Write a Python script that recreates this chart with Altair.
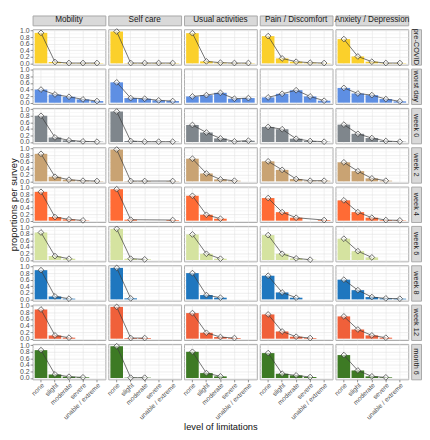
import altair as alt
import pandas as pd

DIMENSIONS = ["Mobility", "Self care", "Usual activities", "Pain / Discomfort", "Anxiety / Depression"]
LEVELS = ["none", "slight", "moderate", "severe", "unable / extreme"]
SURVEYS = ["pre-COVID", "worst day", "week 0", "week 2", "week 4", "week 6", "week 8", "week 12", "month 6"]

# proportions per survey: one list per dimension, values by level
pre_covid = [[0.93, 0.04, 0.01, 0.01, 0.01], [0.97, 0.01, 0.01, 0.01, 0.01], [0.92, 0.06, 0.02, 0.01, 0.01],
             [0.83, 0.15, 0.05, 0.02, 0.01], [0.74, 0.21, 0.05, 0.01, 0.01]]
worst_day = [[0.40, 0.25, 0.18, 0.10, 0.05], [0.62, 0.14, 0.12, 0.07, 0.05], [0.19, 0.23, 0.30, 0.12, 0.14],
             [0.16, 0.27, 0.38, 0.19, 0.06], [0.45, 0.28, 0.23, 0.11, 0.04]]
week_0 = [[0.80, 0.14, 0.05, 0.02, 0.01], [0.93, 0.03, 0.01, 0.01, 0.01], [0.52, 0.29, 0.11, 0.02, 0.04],
          [0.46, 0.39, 0.10, 0.03, 0.01], [0.53, 0.25, 0.12, 0.03, 0.01]]
week_2 = [[0.84, 0.14, 0.05, 0.02, 0.01], [0.97, 0.01, 0.01, 0.0, 0.01], [0.69, 0.24, 0.06, 0.02, 0.0],
          [0.61, 0.35, 0.07, 0.02, 0.02], [0.58, 0.31, 0.09, 0.02, 0.0]]
week_4 = [[0.88, 0.11, 0.04, 0.01, 0.0], [0.96, 0.03, 0.0, 0.0, 0.02], [0.76, 0.18, 0.06, 0.0, 0.0],
          [0.69, 0.26, 0.09, 0.0, 0.02], [0.62, 0.26, 0.09, 0.02, 0.01]]
week_6 = [[0.84, 0.12, 0.04, 0.0, 0.0], [0.95, 0.04, 0.02, 0.0, 0.0], [0.78, 0.19, 0.04, 0.0, 0.0],
          [0.76, 0.19, 0.05, 0.01, 0.0], [0.65, 0.27, 0.08, 0.0, 0.0]]
week_8 = [[0.89, 0.09, 0.02, 0.0, 0.0], [0.96, 0.03, 0.0, 0.0, 0.0], [0.80, 0.13, 0.05, 0.0, 0.0],
          [0.72, 0.21, 0.05, 0.0, 0.0], [0.60, 0.28, 0.07, 0.03, 0.02]]
week_12 = [[0.89, 0.10, 0.03, 0.0, 0.0], [0.97, 0.02, 0.02, 0.0, 0.0], [0.78, 0.18, 0.05, 0.02, 0.0],
           [0.74, 0.22, 0.06, 0.02, 0.0], [0.68, 0.28, 0.10, 0.03, 0.0]]
month_6 = [[0.85, 0.11, 0.04, 0.02, 0.0], [0.97, 0.01, 0.01, 0.0, 0.0], [0.80, 0.15, 0.05, 0.0, 0.0],
           [0.76, 0.13, 0.08, 0.03, 0.0], [0.70, 0.23, 0.05, 0.02, 0.0]]

SURVEY_VALUES = [pre_covid, worst_day, week_0, week_2, week_4, week_6, week_8, week_12, month_6]
COLORS = ["#FBD02B", "#5E8FE3", "#7F868C", "#C9A373", "#FF6B35", "#D5E3A0", "#1F77BF", "#F0603A", "#3D7A24"]
Y_TICKS = [0.0, 0.2, 0.4, 0.6, 0.8, 1.0]
Y_MINOR = [0.1, 0.3, 0.5, 0.7, 0.9]

records = []
for s, vals in zip(SURVEYS, SURVEY_VALUES):
    for d, dv in zip(DIMENSIONS, vals):
        for lev, v in zip(LEVELS, dv):
            records.append({"survey": s, "dimension": d, "level": lev, "value": v})
df = pd.DataFrame(records)
minor_df = pd.DataFrame({"value": Y_MINOR})

W, H, STRIP = 74, 36, 10
FONT = "Liberation Sans"


def panel(si, di):
    s, d = SURVEYS[si], DIMENSIONS[di]
    first_col, last_row = di == 0, si == len(SURVEYS) - 1
    yaxis = alt.Axis(
        values=Y_TICKS, labels=first_col, ticks=first_col, domain=False,
        labelOverlap=False, labelFlush=False, format=".1f", labelFontSize=7, labelPadding=1,
        gridColor="#e0e0e0", gridWidth=0.6,
        title=("proportions per survey" if (first_col and si == 4) else None),
    )
    xaxis = alt.Axis(
        labels=last_row, ticks=last_row, domain=False, grid=True, gridColor="#e4e4e4", gridWidth=0.6,
        labelAngle=-45, labelAlign="right", labelBaseline="top", labelOverlap=False,
        labelFontSize=6.6, labelPadding=0,
        title=("level of limitations" if (last_row and di == 2) else None),
    )
    x = alt.X("level:N", sort=LEVELS,
              scale=alt.Scale(domain=LEVELS, paddingInner=0.1, paddingOuter=0.15), axis=xaxis)
    y = alt.Y("value:Q", scale=alt.Scale(domain=[-0.04, 1.04], nice=False, zero=False), axis=yaxis)
    minor = alt.Chart(minor_df).mark_rule(color="#f0f0f0", strokeWidth=0.5).encode(y=y)
    base = alt.Chart().transform_filter((alt.datum.survey == s) & (alt.datum.dimension == d))
    bars = base.mark_bar(color=COLORS[si]).encode(x=x, y=y)
    nz = base.transform_filter(alt.datum.value > 0)
    line = nz.mark_line(color="#3a3a3a", strokeWidth=0.7).encode(x=x, y=y)
    pts = nz.mark_point(shape="diamond", filled=True, fill="white", fillOpacity=0.55,
                        stroke="#333333", strokeWidth=0.7, size=34, opacity=1).encode(x=x, y=y)
    return alt.layer(minor, bars, line, pts).properties(width=W, height=H)


def strip(text, width, height, angle=0, size=9):
    return alt.Chart(pd.DataFrame({"label": [text]})).mark_text(
        font=FONT, fontSize=size, color="#1a1a1a", angle=angle, align="center", baseline="middle"
    ).encode(text="label:N", x=alt.value(width / 2), y=alt.value(height / 2)).properties(
        width=width, height=height,
        view=alt.ViewBackground(fill="#d9d9d9", stroke="#a8a8a8"),
    )


cells = [strip(d, W, STRIP, size=8.3) for d in DIMENSIONS]
cells.append(alt.Chart(pd.DataFrame({"label": ["corner"]})).mark_point(opacity=0).encode(
    x=alt.value(0), y=alt.value(0)).properties(
    width=10, height=STRIP, view=alt.ViewBackground(stroke="transparent")))
for si, s in enumerate(SURVEYS):
    for di in range(len(DIMENSIONS)):
        cells.append(panel(si, di))
    cells.append(strip(s, 10, H, angle=90, size=7.5))

chart = alt.concat(*cells, columns=6, spacing={"row": 4, "column": 3}, data=df).properties(
    align="each", bounds="flush", padding={"left": 0, "top": 0, "right": 0, "bottom": 0}
).configure_view(stroke="#ababab", strokeWidth=1).configure_axis(
    labelFont=FONT, labelColor="#4d4d4d",
    titleFont=FONT, titleFontSize=9.5, titleColor="#111111", titleFontWeight="normal", titlePadding=1,
    tickColor="#4d4d4d", tickSize=2.5, tickWidth=0.6,
)

chart.save("out.html", embed_options={"renderer": "svg", "actions": False})
